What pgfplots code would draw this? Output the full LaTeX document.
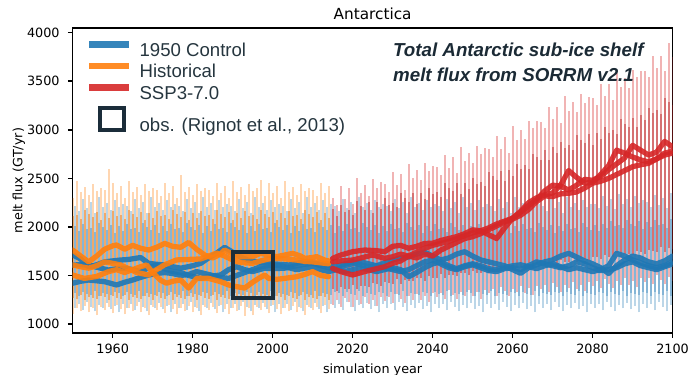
\documentclass[border=0pt]{standalone}
\usepackage{pgfplots}
\pgfplotsset{compat=1.18}
\usepackage{pgfplotstable}
\usepackage{fontspec}
\setmainfont{DejaVu Sans}
\newfontfamily\legfont{Liberation Sans}
\definecolor{tabblue}{HTML}{1F77B4}
\definecolor{taborange}{HTML}{FF7F0E}
\definecolor{tabred}{HTML}{D62728}
\definecolor{obsc}{HTML}{1B2D3A}
\definecolor{legc}{HTML}{26363F}
\definecolor{annc}{HTML}{1B2A35}

% seasonal spikes: year, low, high (outer), low2, high2 (core)
\pgfplotstableread{
x lo hi lo2 hi2
1950 1170 2220 1320 2010
1951 1210 2160 1290 1960
1952 1140 2290 1330 2030
1953 1230 2190 1310 1980
1954 1180 2260 1300 1990
1955 1130 2140 1340 1950
1956 1200 2310 1290 2040
1957 1160 2200 1320 2000
1958 1220 2250 1310 1970
1959 1150 2170 1300 2020
1960 1190 2280 1330 1940
1961 1120 2210 1320 2010
1962 1210 2240 1290 1960
1963 1170 2220 1330 2030
1964 1210 2160 1310 1980
1965 1140 2290 1300 1990
1966 1230 2190 1340 1950
1967 1180 2260 1290 2040
1968 1130 2140 1320 2000
1969 1200 2310 1310 1970
1970 1160 2200 1300 2020
1971 1220 2250 1330 1940
1972 1150 2170 1320 2010
1973 1190 2280 1290 1960
1974 1120 2210 1330 2030
1975 1210 2240 1310 1980
1976 1170 2220 1300 1990
1977 1210 2160 1340 1950
1978 1140 2290 1290 2040
1979 1230 2190 1320 2000
1980 1180 2260 1310 1970
1981 1130 2140 1300 2020
1982 1200 2310 1330 1940
1983 1160 2200 1320 2010
1984 1220 2250 1290 1960
1985 1150 2170 1330 2030
1986 1190 2280 1310 1980
1987 1120 2210 1300 1990
1988 1210 2240 1340 1950
1989 1170 2220 1290 2040
1990 1210 2160 1320 2000
1991 1140 2290 1310 1970
1992 1230 2190 1300 2020
1993 1180 2260 1330 1940
1994 1130 2140 1320 2010
1995 1200 2310 1290 1960
1996 1160 2200 1330 2030
1997 1220 2250 1310 1980
1998 1150 2170 1300 1990
1999 1190 2280 1340 1950
2000 1120 2210 1290 2040
2001 1210 2240 1320 2000
2002 1170 2220 1310 1970
2003 1210 2160 1300 2020
2004 1140 2290 1330 1940
2005 1230 2190 1320 2010
2006 1180 2260 1290 1960
2007 1130 2140 1330 2030
2008 1200 2310 1310 1980
2009 1160 2200 1300 1990
2010 1220 2250 1340 1950
2011 1150 2170 1290 2040
2012 1190 2280 1320 2000
2013 1120 2210 1310 1970
2014 1210 2240 1300 2020
2015 1170 2220 1330 1940
2016 1210 2160 1320 2010
2017 1140 2290 1290 1960
2018 1230 2190 1330 2030
2019 1180 2260 1310 1980
2020 1130 2140 1300 1990
2021 1200 2310 1340 1950
2022 1160 2200 1290 2040
2023 1220 2250 1320 2000
2024 1150 2170 1310 1970
2025 1190 2280 1300 2020
2026 1120 2210 1330 1940
2027 1210 2240 1320 2010
2028 1170 2220 1290 1960
2029 1210 2160 1330 2030
2030 1140 2290 1310 1980
2031 1230 2190 1300 1990
2032 1180 2260 1340 1950
2033 1130 2140 1290 2040
2034 1200 2310 1320 2000
2035 1160 2200 1310 1970
2036 1220 2250 1300 2020
2037 1150 2170 1330 1940
2038 1190 2280 1320 2010
2039 1120 2210 1290 1960
2040 1210 2240 1330 2030
2041 1170 2220 1310 1980
2042 1210 2160 1300 1990
2043 1140 2290 1340 1950
2044 1230 2190 1290 2040
2045 1180 2260 1320 2000
2046 1130 2140 1310 1970
2047 1200 2310 1300 2020
2048 1160 2200 1330 1940
2049 1220 2250 1320 2010
2050 1150 2170 1290 1960
2051 1190 2280 1330 2030
2052 1120 2210 1310 1980
2053 1210 2240 1300 1990
2054 1170 2220 1340 1950
2055 1210 2160 1290 2040
2056 1140 2290 1320 2000
2057 1230 2190 1310 1970
2058 1180 2260 1300 2020
2059 1130 2140 1330 1940
2060 1200 2310 1320 2010
2061 1160 2200 1290 1960
2062 1220 2250 1330 2030
2063 1150 2170 1310 1980
2064 1190 2280 1300 1990
2065 1120 2210 1340 1950
2066 1210 2240 1290 2040
2067 1170 2220 1320 2000
2068 1210 2160 1310 1970
2069 1140 2290 1300 2020
2070 1230 2190 1330 1940
2071 1180 2260 1320 2010
2072 1130 2140 1290 1960
2073 1200 2310 1330 2030
2074 1160 2200 1310 1980
2075 1220 2250 1300 1990
2076 1150 2170 1340 1950
2077 1190 2280 1290 2040
2078 1120 2210 1320 2000
2079 1210 2240 1310 1970
2080 1170 2240 1300 2020
2081 1210 2190 1330 1960
2082 1140 2320 1320 2030
2083 1230 2220 1290 1990
2084 1180 2290 1330 2060
2085 1130 2180 1310 2010
2086 1200 2340 1300 2020
2087 1160 2240 1340 1990
2088 1220 2290 1290 2070
2089 1150 2210 1320 2030
2090 1190 2320 1310 2010
2091 1120 2250 1300 2060
2092 1210 2280 1330 1980
2093 1170 2260 1320 2050
2094 1210 2200 1290 2000
2095 1140 2330 1330 2070
2096 1230 2230 1310 2020
2097 1180 2300 1300 2030
2098 1130 2190 1340 1990
2099 1200 2350 1290 2080
}\ctrlspk

\pgfplotstableread{
x lo hi lo2 hi2
1950 1100 2300 1270 2110
1951 1170 2470 1260 2120
1952 1130 2360 1300 2080
1953 1190 2410 1250 2170
1954 1120 2330 1280 2130
1955 1160 2440 1270 2100
1956 1090 2370 1260 2150
1957 1180 2400 1290 2070
1958 1140 2380 1280 2140
1959 1180 2600 1250 2090
1960 1110 2450 1290 2160
1961 1200 2350 1270 2110
1962 1150 2420 1260 2120
1963 1100 2300 1300 2080
1964 1170 2470 1250 2170
1965 1130 2360 1280 2130
1966 1190 2410 1270 2100
1967 1120 2330 1260 2150
1968 1160 2440 1290 2070
1969 1090 2370 1280 2140
1970 1180 2400 1250 2090
1971 1140 2380 1290 2160
1972 1180 2320 1270 2110
1973 1110 2450 1260 2120
1974 1200 2350 1300 2080
1975 1150 2420 1250 2170
1976 1100 2300 1280 2130
1977 1170 2530 1270 2100
1978 1130 2360 1260 2150
1979 1190 2410 1290 2070
1980 1120 2330 1280 2140
1981 1160 2440 1250 2090
1982 1090 2370 1290 2160
1983 1180 2400 1270 2110
1984 1140 2380 1260 2120
1985 1180 2320 1300 2080
1986 1110 2450 1250 2170
1987 1200 2350 1280 2130
1988 1150 2420 1270 2100
1989 1100 2300 1260 2150
1990 1170 2470 1290 2070
1991 1130 2360 1280 2140
1992 1190 2410 1250 2090
1993 1080 2330 1290 2160
1994 1160 2440 1270 2110
1995 1090 2370 1260 2120
1996 1180 2400 1300 2080
1997 1140 2480 1250 2170
1998 1180 2320 1280 2130
1999 1110 2450 1270 2100
2000 1200 2350 1260 2150
2001 1150 2420 1290 2070
2002 1100 2300 1280 2140
2003 1170 2470 1250 2090
2004 1130 2360 1290 2160
2005 1190 2410 1270 2110
2006 1120 2330 1260 2120
2007 1160 2440 1300 2080
2008 1090 2370 1250 2170
2009 1180 2400 1280 2130
2010 1140 2380 1270 2100
2011 1180 2320 1260 2150
2012 1110 2450 1290 2070
2013 1200 2350 1280 2140
2014 1150 2420 1250 2090
}\histspk

\pgfplotstableread{
x lo hi lo2 hi2
2015 1200 2300 1360 2180
2016 1243 2221 1335 2112
2017 1176 2426 1380 2223
2018 1269 2287 1365 2155
2019 1222 2403 1360 2177
2020 1175 2233 1405 2123
2021 1248 2499 1360 2265
2022 1211 2345 1395 2212
2023 1274 2430 1390 2173
2024 1207 2321 1385 2255
2025 1250 2497 1420 2142
2026 1183 2402 1415 2253
2027 1276 2458 1390 2185
2028 1239 2439 1435 2297
2029 1282 2359 1420 2228
2030 1215 2565 1415 2250
2031 1308 2429 1460 2200
2032 1261 2548 1415 2345
2033 1214 2382 1450 2295
2034 1287 2651 1445 2260
2035 1250 2500 1440 2345
2036 1313 2589 1475 2235
2037 1246 2483 1470 2350
2038 1289 2662 1445 2285
2039 1222 2571 1490 2400
2040 1315 2630 1475 2335
2041 1278 2613 1470 2359
2042 1321 2536 1515 2308
2043 1254 2744 1470 2452
2044 1347 2607 1505 2401
2045 1300 2725 1500 2365
2046 1253 2558 1495 2449
2047 1326 2826 1530 2338
2048 1289 2674 1525 2452
2049 1352 2762 1500 2386
2050 1285 2655 1545 2500
2051 1328 2837 1530 2438
2052 1261 2749 1525 2466
2053 1354 2811 1570 2419
2054 1317 2798 1525 2567
2055 1360 2725 1560 2520
2056 1293 2937 1555 2488
2057 1386 2804 1550 2576
2058 1339 2926 1585 2469
2059 1292 2763 1580 2587
2060 1365 3035 1555 2525
2061 1328 2896 1600 2652
2062 1391 2997 1585 2599
2063 1324 2903 1580 2636
2064 1367 3094 1625 2598
2065 1300 3015 1580 2755
2066 1393 3086 1615 2717
2067 1356 3082 1610 2694
2068 1399 3018 1605 2791
2069 1332 3239 1640 2693
2070 1425 3115 1635 2820
2071 1378 3237 1610 2758
2072 1331 3074 1655 2876
2073 1404 3346 1640 2814
2074 1367 3198 1635 2842
2075 1430 3290 1680 2795
2076 1363 3187 1635 2943
2077 1406 3369 1670 2896
2078 1339 3281 1665 2864
2079 1432 3343 1660 2952
2080 1395 3330 1695 2845
2081 1438 3260 1690 2966
2082 1371 3475 1665 2907
2083 1464 3345 1710 3028
2084 1417 3470 1695 2969
2085 1370 3310 1690 3000
2086 1443 3585 1735 2956
2087 1406 3440 1690 3107
2088 1469 3535 1725 3063
2089 1402 3435 1720 3034
2090 1445 3620 1715 3125
2091 1378 3540 1750 3026
2092 1471 3610 1745 3152
2093 1434 3605 1720 3098
2094 1477 3540 1765 3224
2095 1410 3760 1750 3170
2096 1503 3635 1745 3206
2097 1456 3765 1790 3167
2098 1409 3610 1745 3323
2099 1482 3890 1780 3284
2100 1445 3750 1775 3260
}\sspspk

% smoothed members
\pgfplotstableread{
x y
1950 1711
1952 1670
1954 1590
1956 1610
1958 1640
1960 1650
1962 1659
1964 1665
1967 1685
1969 1625
1971 1615
1973 1608
1975 1590
1977 1575
1980 1600
1982 1625
1984 1680
1986 1730
1988 1790
1990 1740
1992 1690
1994 1655
1996 1642
1998 1630
2000 1620
2002 1615
2004 1608
2006 1625
2008 1642
2010 1630
2012 1615
2014 1600
2016 1590
2018 1620
2020 1640
2022 1610
2024 1590
2026 1600
2028 1630
2030 1660
2032 1680
2034 1690
2036 1720
2038 1740
2040 1700
2042 1660
2044 1680
2046 1720
2048 1745
2050 1700
2052 1660
2054 1640
2056 1620
2058 1600
2060 1560
2062 1522
2064 1580
2066 1610
2068 1640
2070 1660
2072 1700
2074 1728
2076 1690
2078 1650
2080 1620
2082 1580
2084 1520
2086 1600
2088 1660
2090 1700
2092 1680
2094 1640
2096 1620
2098 1650
2100 1700
}\cA

\pgfplotstableread{
x y
1950 1608
1952 1610
1954 1608
1956 1585
1959 1556
1961 1570
1963 1575
1965 1560
1967 1540
1969 1580
1971 1608
1973 1570
1975 1540
1977 1530
1979 1500
1982 1470
1984 1490
1987 1505
1989 1560
1991 1590
1993 1560
1995 1540
1998 1575
2000 1570
2003 1575
2006 1600
2008 1615
2010 1625
2012 1600
2014 1580
2016 1560
2018 1540
2020 1560
2022 1580
2024 1560
2026 1540
2028 1560
2030 1580
2032 1560
2034 1487
2036 1530
2038 1580
2040 1620
2042 1640
2044 1600
2046 1570
2048 1600
2050 1620
2052 1600
2054 1570
2056 1560
2058 1580
2060 1600
2062 1610
2064 1590
2066 1570
2068 1600
2070 1620
2072 1590
2074 1560
2076 1580
2078 1560
2080 1540
2082 1560
2084 1600
2086 1728
2088 1700
2090 1660
2092 1630
2094 1600
2096 1580
2098 1600
2100 1640
}\cB

\pgfplotstableread{
x y
1950 1420
1952 1440
1954 1453
1956 1445
1958 1436
1961 1402
1963 1430
1965 1453
1967 1480
1969 1505
1971 1520
1973 1530
1975 1520
1977 1500
1979 1510
1981 1540
1983 1520
1985 1500
1987 1480
1989 1470
1991 1500
1993 1530
1995 1560
1997 1590
2000 1610
2002 1600
2004 1580
2006 1560
2008 1575
2010 1590
2012 1560
2014 1540
2016 1560
2018 1600
2020 1620
2022 1640
2024 1620
2026 1600
2028 1580
2030 1560
2032 1540
2034 1560
2036 1600
2038 1640
2040 1660
2042 1620
2044 1580
2046 1560
2048 1590
2050 1610
2052 1580
2054 1550
2056 1540
2058 1570
2060 1580
2062 1560
2064 1600
2066 1640
2068 1620
2070 1600
2072 1580
2074 1600
2076 1640
2078 1620
2080 1580
2082 1550
2084 1560
2086 1580
2088 1620
2090 1640
2092 1600
2094 1580
2096 1560
2098 1590
2100 1620
}\cC

\pgfplotstableread{
x y
1950 1762
1952 1700
1954 1640
1956 1700
1958 1770
1960 1805
1961 1814
1963 1770
1965 1810
1967 1780
1969 1762
1971 1790
1973 1830
1975 1800
1977 1790
1979 1840
1981 1770
1983 1711
1985 1680
1987 1720
1988 1762
1990 1720
1991 1694
1993 1694
1995 1694
1997 1728
1999 1710
2001 1694
2003 1710
2005 1728
2007 1700
2008 1676
2010 1685
2011 1694
2013 1659
2014 1650
}\hA

\pgfplotstableread{
x y
1950 1608
1952 1590
1954 1575
1956 1600
1958 1640
1960 1625
1962 1608
1964 1570
1966 1530
1969 1505
1971 1560
1973 1610
1976 1660
1979 1665
1982 1670
1984 1700
1986 1730
1988 1700
1990 1660
1991 1642
1993 1630
1995 1625
1997 1650
1999 1670
2001 1676
2003 1670
2006 1659
2008 1645
2010 1640
2013 1625
2014 1620
}\hB

\pgfplotstableread{
x y
1950 1505
1952 1480
1953 1470
1956 1490
1959 1540
1961 1560
1963 1530
1965 1560
1967 1590
1968.5 1608
1970 1530
1972 1450
1973.5 1420
1975 1440
1977 1453
1979 1370
1981 1470
1984 1470
1987 1436
1989 1402
1991 1385
1993 1370
1995 1430
1996.5 1470
1998 1505
1999 1470
2001 1460
2003 1470
2006 1487
2008 1510
2010 1540
2012 1500
2014 1487
}\hC

\pgfplotstableread{
x y
2015 1676
2017 1710
2020 1745
2023 1762
2026 1755
2028 1745
2030 1800
2032 1810
2034 1780
2036 1800
2038 1830
2040 1831
2042 1860
2044 1880
2046 1900
2048 1930
2050 1970
2052 1960
2054 1920
2056 1880
2058 1990
2060 2090
2062 2150
2064 2220
2066 2280
2068 2370
2070 2430
2072 2420
2074 2380
2076 2430
2078 2490
2080 2480
2082 2520
2084 2590
2086 2650
2088 2710
2090 2840
2092 2790
2094 2740
2096 2770
2098 2880
2100 2825
}\rA

\pgfplotstableread{
x y
2015 1573
2017 1540
2020 1505
2023 1540
2026 1570
2028 1590
2030 1625
2032 1650
2034 1700
2036 1740
2038 1780
2040 1810
2042 1830
2044 1850
2046 1880
2048 1910
2050 1940
2052 1960
2054 1990
2056 2030
2058 2060
2060 2090
2062 2160
2064 2250
2066 2300
2068 2330
2070 2350
2072 2430
2074 2580
2076 2510
2078 2450
2080 2460
2082 2540
2084 2630
2086 2790
2088 2760
2090 2720
2092 2690
2094 2670
2096 2700
2098 2760
2100 2780
}\rB

\pgfplotstableread{
x y
2015 1640
2017 1650
2020 1659
2023 1690
2025 1711
2028 1676
2030 1693
2032 1720
2034 1700
2036 1680
2038 1720
2040 1700
2042 1760
2044 1800
2046 1840
2048 1880
2050 1899
2052 1930
2054 1970
2056 2010
2058 2050
2060 2080
2062 2120
2064 2180
2066 2260
2068 2320
2070 2312
2072 2340
2074 2346
2076 2360
2078 2400
2080 2450
2082 2470
2084 2500
2086 2540
2088 2580
2090 2620
2092 2640
2094 2655
2096 2700
2098 2740
2100 2760
}\rC

\begin{document}
\begin{tikzpicture}
\begin{axis}[
  at={(0pt,0pt)}, anchor=south west,
  scale only axis, width=432pt, height=219.6pt,
  xmin=1950, xmax=2100, ymin=907, ymax=4048,
  xtick={1960,1980,2000,2020,2040,2060,2080,2100},
  ytick={1000,1500,2000,2500,3000,3500,4000},
  tick pos=left, tick align=outside, major tick length=3.5pt,
  axis line style={line width=1.1pt, black},
  tick style={line width=1.1pt, black},
  /pgf/number format/assume math mode=true,
  /pgf/number format/1000 sep={},
  tick label style={font=\fontsize{9.2}{11}\selectfont, black},
  xticklabel style={yshift=-1.2pt},
  yticklabel style={xshift=-2.4pt},
  every axis title/.style={at={(axis description cs:0.5,1)}, anchor=base, yshift=6.3pt, font=\fontsize{11}{13}\selectfont},
  title={Antarctica},
  every axis x label/.style={at={([yshift=-29.3pt]axis description cs:0.5,0)}, anchor=base, font=\fontsize{9.2}{11}\selectfont},
  every axis y label/.style={at={([xshift=-36.1pt]axis description cs:0,0.5)}, anchor=base, rotate=90, font=\fontsize{9.2}{11}\selectfont},
  xlabel={simulation year},
  ylabel={melt flux (GT/yr)},
  legend cell align=left,
  legend style={at={(axis description cs:0,1)}, anchor=north west, xshift=9.6pt, yshift=-9.45pt,
    draw=none, fill=none, inner sep=0pt, outer sep=0pt, row sep=2.05pt, column sep=4pt,
    font=\legfont\fontsize{13.4}{15}\selectfont, text=legc,
    nodes={inner sep=1pt}},
]
% seasonal cycle spikes (control peaks fall half a year after the others)
\addplot[draw=none, mark=none, forget plot, error bars/.cd, y dir=plus, y explicit, error mark=none,
  error bar style={draw=tabblue, draw opacity=0.3, line width=1.3pt, solid}]
  table[x expr=\thisrow{x}+0.5, y=lo, y error expr=\thisrow{hi}-\thisrow{lo}] {\ctrlspk};
\addplot[draw=none, mark=none, forget plot, error bars/.cd, y dir=plus, y explicit, error mark=none,
  error bar style={draw=tabblue, draw opacity=0.35, line width=1.3pt, solid}]
  table[x expr=\thisrow{x}+0.5, y=lo2, y error expr=\thisrow{hi2}-\thisrow{lo2}] {\ctrlspk};
\addplot[draw=none, mark=none, forget plot, error bars/.cd, y dir=plus, y explicit, error mark=none,
  error bar style={draw=taborange, draw opacity=0.32, line width=1.3pt, solid}]
  table[x=x, y=lo, y error expr=\thisrow{hi}-\thisrow{lo}] {\histspk};
\addplot[draw=none, mark=none, forget plot, error bars/.cd, y dir=plus, y explicit, error mark=none,
  error bar style={draw=taborange!85!black, draw opacity=0.42, line width=1.3pt, solid}]
  table[x=x, y=lo2, y error expr=\thisrow{hi2}-\thisrow{lo2}] {\histspk};
\addplot[draw=none, mark=none, forget plot, error bars/.cd, y dir=plus, y explicit, error mark=none,
  error bar style={draw=tabred, draw opacity=0.35, line width=1.3pt, solid}]
  table[x=x, y=lo, y error expr=\thisrow{hi}-\thisrow{lo}] {\sspspk};
\addplot[draw=none, mark=none, forget plot, error bars/.cd, y dir=plus, y explicit, error mark=none,
  error bar style={draw=tabred!85!black, draw opacity=0.45, line width=1.3pt, solid}]
  table[x=x, y=lo2, y error expr=\thisrow{hi2}-\thisrow{lo2}] {\sspspk};
% smoothed members
\addplot[tabblue, line width=3.8pt, opacity=0.9, line join=round, line cap=round, forget plot] table {\cA};
\addplot[tabblue, line width=3.8pt, opacity=0.9, line join=round, line cap=round, forget plot] table {\cB};
\addplot[tabblue, line width=3.8pt, opacity=0.9, line join=round, line cap=round, forget plot] table {\cC};
\addplot[taborange, line width=3.8pt, opacity=0.9, line join=round, line cap=round, forget plot] table {\hA};
\addplot[taborange, line width=3.8pt, opacity=0.9, line join=round, line cap=round, forget plot] table {\hB};
\addplot[taborange, line width=3.8pt, opacity=0.9, line join=round, line cap=round, forget plot] table {\hC};
\addplot[tabred, line width=3.8pt, opacity=0.9, line join=round, line cap=round, forget plot] table {\rA};
\addplot[tabred, line width=3.8pt, opacity=0.9, line join=round, line cap=round, forget plot] table {\rB};
\addplot[tabred, line width=3.8pt, opacity=0.9, line join=round, line cap=round, forget plot] table {\rC};
% observations box
\addplot[obsc, line width=2.9pt, line join=miter, line cap=rect, forget plot]
  coordinates {(1990,1263) (2000,1263) (2000,1737) (1990,1737) (1990,1263)};
% legend
\addlegendimage{legend image code/.code={\draw[line width=4.8pt, draw=tabblue!90!white] (0pt,4.45pt) -- (28.8pt,4.45pt);}}
\addlegendentry{1950 Control}
\addlegendimage{legend image code/.code={\draw[line width=4.8pt, draw=taborange!90!white] (0pt,4.45pt) -- (28.8pt,4.45pt);}}
\addlegendentry{Historical}
\addlegendimage{legend image code/.code={\draw[line width=4.8pt, draw=tabred!90!white] (0pt,4.45pt) -- (28.8pt,4.45pt);}}
\addlegendentry{SSP3-7.0}
\addlegendimage{legend image code/.code={\draw[line width=2.9pt, draw=obsc] (7.4pt,-3.6pt) rectangle (25pt,12.8pt);}}
\addlegendentry{obs. (Rignot et al., 2013)}
% annotation
\node[anchor=base west, font=\legfont\bfseries\itshape\fontsize{13.5}{16}\selectfont, text=annc, inner sep=0pt]
  at ([xshift=230.6pt, yshift=-20.7pt]axis description cs:0,1) {Total Antarctic sub-ice shelf};
\node[anchor=base west, font=\legfont\bfseries\itshape\fontsize{13.5}{16}\selectfont, text=annc, inner sep=0pt]
  at ([xshift=230.6pt, yshift=-38.7pt]axis description cs:0,1) {melt flux from SORRM v2.1};
\end{axis}
\pgfresetboundingbox
\useasboundingbox (-52.3pt,-30.2pt) rectangle (447.4pt,239.8pt);
\end{tikzpicture}
\end{document}
